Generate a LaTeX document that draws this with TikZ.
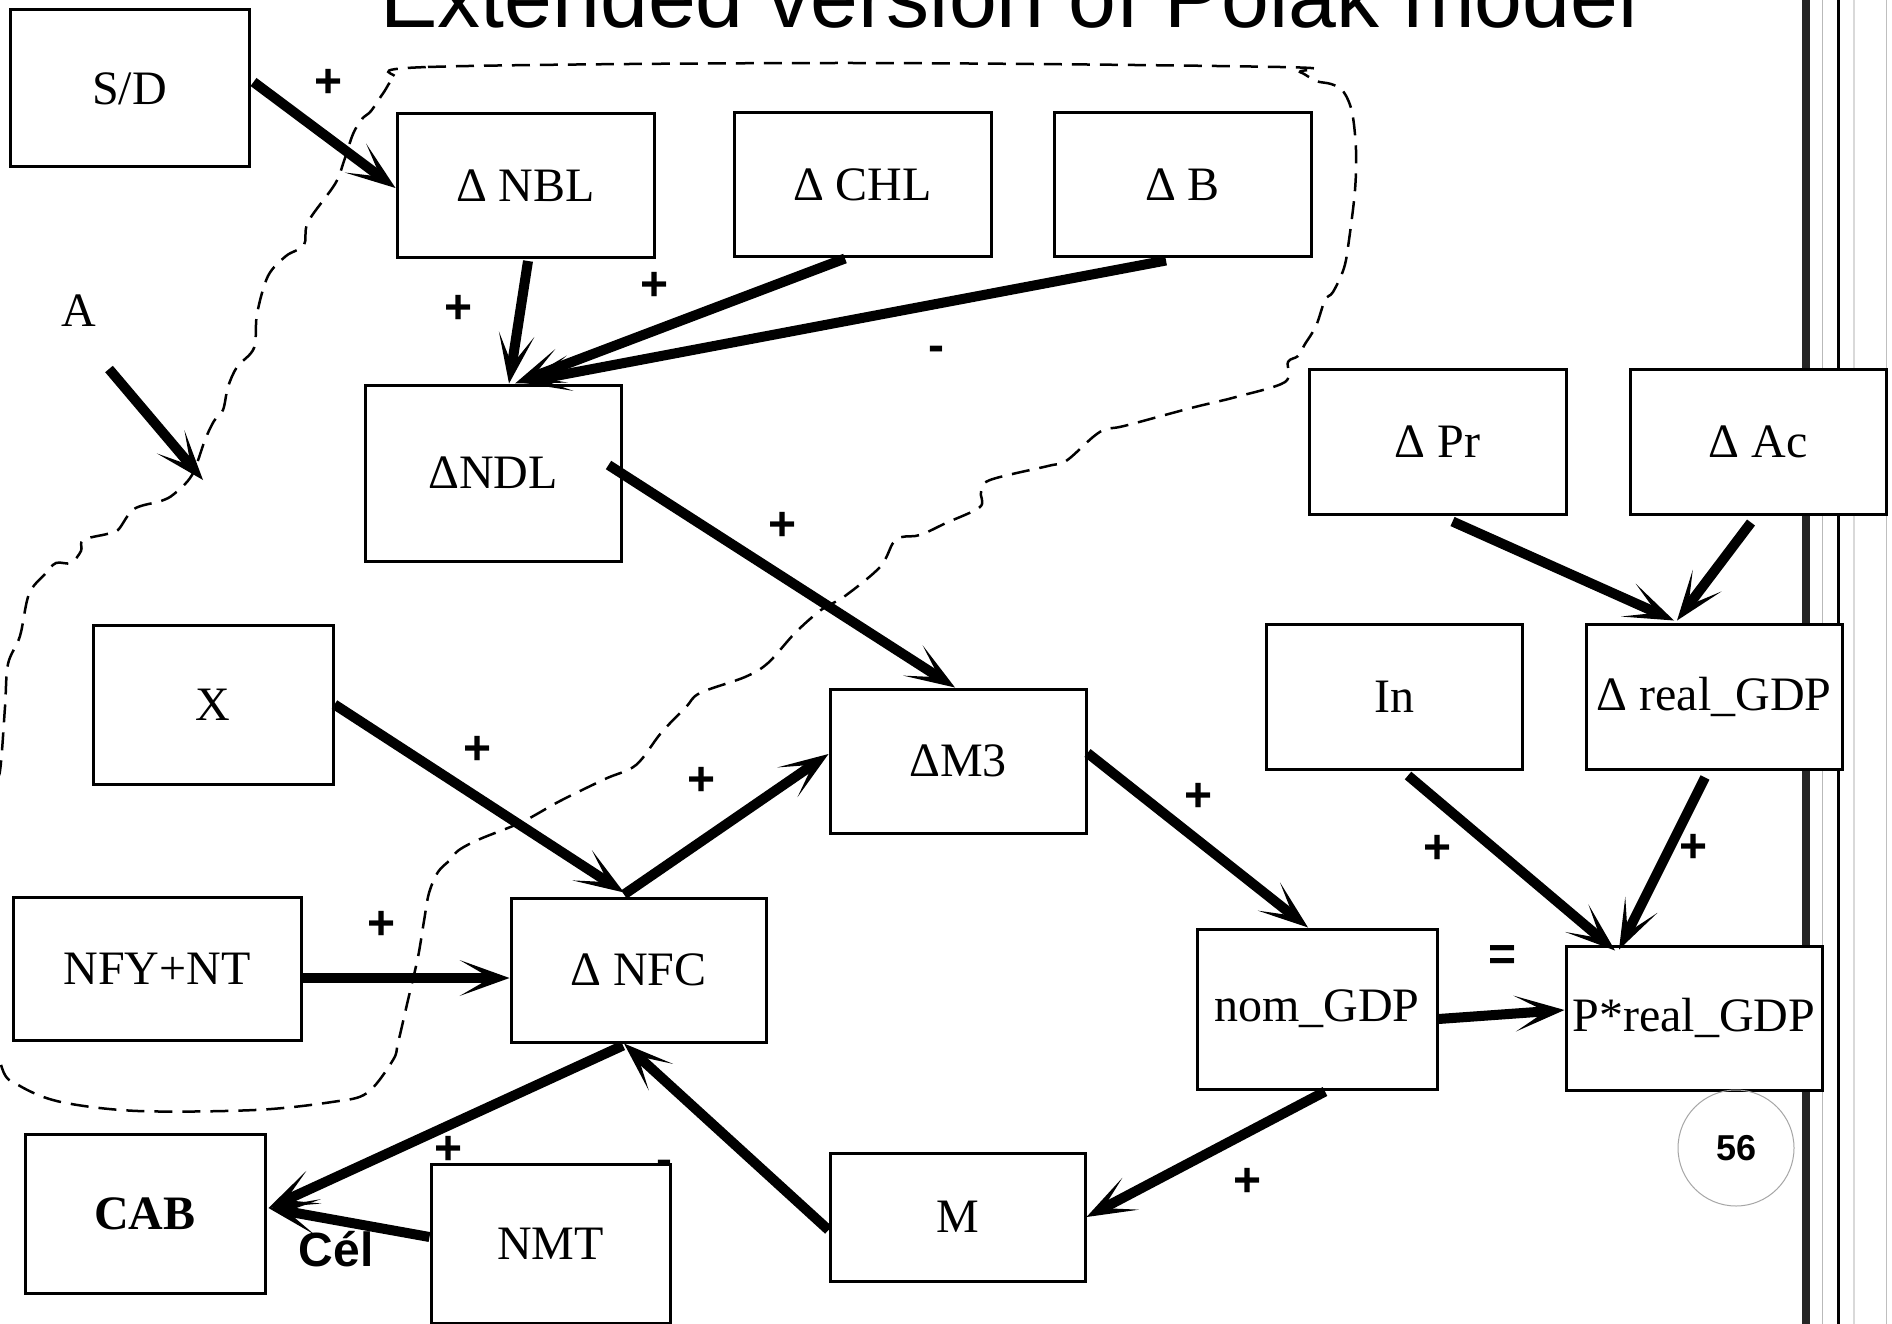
\documentclass[tikz,border=0pt]{standalone}
\usepackage{fontspec}
\setmainfont{Liberation Serif}
\newfontfamily\arialfont{Liberation Sans}
\usetikzlibrary{arrows.meta}

\newcommand\boxfont{\fontsize{48pt}{56pt}\selectfont}
\newcommand\signfont{\fontsize{48pt}{56pt}\arialfont\bfseries}
\newcommand\ttlfont{\fontsize{86pt}{100pt}\arialfont}
\newcommand\pgnumfont{\fontsize{36pt}{40pt}\arialfont\bfseries}

\begin{document}
\begin{tikzpicture}[x=1pt,y=-1pt,
  box/.style={draw, line width=3pt, fill=white, inner sep=0pt, font=\boxfont},
  conn/.style={line width=10pt, -{Stealth[length=50pt,width=36pt,inset=31pt,line width=0pt]}},
  sign/.style={inner sep=0pt, font=\signfont},
  boundary/.style={line width=2.5pt, dash pattern=on 18pt off 10pt}]

\clip (0,0) rectangle (1892,1324);
\fill[white] (0,0) rectangle (1892,1324);

% vertical rails along the right margin
\draw[line width=8pt, black!85] (1806,0) -- (1806,1324);
\draw[line width=1pt, gray!55] (1822,0) -- (1822,1324);
\draw[line width=3pt, black] (1838,0) -- (1838,1324);
\draw[line width=2pt, gray!30] (1854,0) -- (1854,1324);
\draw[line width=1pt, gray!50] (1886,0) -- (1886,1324);

% title (runs off the top edge)
\node[anchor=base, inner sep=0pt, font=\ttlfont] (title) at (1009,28) {Extended version of Polak model};

% dashed boundary around the banking sector
\draw[boundary] plot[smooth cycle, tension=0.55] coordinates {
  (395,78) (428,67) (845,63) (1280,67) (1300,72) (1316,81) (1331,84) (1343,91)
  (1352,112) (1356,150) (1355,190) (1349,240) (1344,268) (1333,292) (1325,300)
  (1316,326) (1305,344) (1298,356) (1288,362) (1285,382) (1236,397) (1191,408)
  (1124,426) (1106,429) (1093,437) (1066,461) (1048,466) (990,480) (981,492)
  (980,507) (946,523) (920,535) (902,537) (893,543) (880,567) (845,596)
  (821,610) (795,633) (768,663) (745,677) (700,693) (686,707) (661,733)
  (636,765) (605,779) (560,801) (522,822) (480,839) (459,850) (450,860)
  (438,872) (429,893) (424,921) (418,957) (408,1000) (398,1043) (393,1060)
  (367,1093) (332,1102) (255,1110) (138,1111) (61,1102) (20,1086) (2,1068)
  (-8,1000) (-8,800) (0,771) (5,707) (8,664) (20,636) (29,594) (45,574)
  (56,563) (71,563) (81,551) (83,540) (107,534) (118,530) (134,509) (161,501)
  (174,494) (192,475) (205,440) (214,421) (223,410) (228,387) (237,367)
  (254,348) (257,314) (268,276) (286,256) (304,245) (308,222) (335,184)
  (344,161) (353,134) (362,119) (371,111) (384,92)};

% variables
\node[box, minimum width=239pt, minimum height=157pt] (sd)   at (129.5,88.5) {S/D};
\node[box, minimum width=257pt, minimum height=144pt] (nbl)  at (525.5,186)  {Δ NBL};
\node[box, minimum width=257pt, minimum height=144pt] (chl)  at (862.5,185)  {Δ CHL};
\node[box, minimum width=257pt, minimum height=144pt] (b)    at (1182.5,185) {Δ B};
\node[box, minimum width=256pt, minimum height=176pt] (ndl)  at (493,473)    {ΔNDL};
\node[box, minimum width=257pt, minimum height=145pt] (pr)   at (1437.5,441.5) {Δ Pr};
\node[box, minimum width=256pt, minimum height=145pt] (ac)   at (1758,441.5) {Δ Ac};
\node[box, minimum width=256pt, minimum height=145pt] (in)   at (1394,696.5) {In};
\node[box, minimum width=256pt, minimum height=145pt] (real) at (1714,696.5) {Δ real\_GDP};
\node[box, minimum width=240pt, minimum height=159pt] (x)    at (213,704.5)  {X};
\node[box, minimum width=256pt, minimum height=144pt] (m3)   at (958,761)    {ΔM3};
\node[box, minimum width=288pt, minimum height=143pt] (nfy)  at (157,968.5)  {NFY+NT};
\node[box, minimum width=255pt, minimum height=144pt] (nfc)  at (638.5,970)  {Δ NFC};
\node[box, minimum width=240pt, minimum height=160pt] (nom)  at (1317,1009)  {nom\_GDP};
\node[box, minimum width=256pt, minimum height=144pt] (p)    at (1694,1018)  {P*real\_GDP};
\node[box, minimum width=240pt, minimum height=159pt] (cab)  at (145,1213.5) {\bfseries CAB};
\node[box, minimum width=239pt, minimum height=159pt] (nmt)  at (550.5,1243.5) {NMT};
\node[box, minimum width=255pt, minimum height=128pt] (m)    at (957.5,1217) {M};

\node[inner sep=0pt, font=\boxfont] (alab) at (79,311) {A};
\coordinate (atail) at (109,369);
\coordinate (ahead) at (203,480);

% causal links
\draw[conn] (atail) -- (ahead);
\draw[conn] ([xshift=3pt,yshift=6.5pt]sd.east) -- ([yshift=-2pt]nbl.west);
\draw[conn] ([xshift=2.5pt,yshift=-1.5pt]nbl.south) -- ([xshift=16pt]ndl.north);
\draw[conn] ([xshift=-17.5pt]chl.south) -- ([xshift=22pt]ndl.north);
\draw[conn] ([xshift=-16.5pt,yshift=-2pt]b.south) -- ([xshift=28pt,yshift=1pt]ndl.north);
\draw[conn] ([xshift=-14pt,yshift=8pt]ndl.east) -- ([xshift=-3pt]m3.north);
\draw[conn] (x.east) -- ([xshift=-14.5pt,yshift=4pt]nfc.north);
\draw[conn] ([xshift=-14.5pt,yshift=2pt]nfc.north) -- ([yshift=7pt]m3.west);
\draw[conn] ([yshift=-9.5pt]nfy.east) -- ([yshift=-8pt]nfc.west);
\draw[conn] ([xshift=-15.5pt,yshift=-2pt]nfc.south) -- ([xshift=2pt,yshift=5.5pt]cab.east);
\draw[conn] ([yshift=-13pt]m.west) -- ([xshift=-14.5pt]nfc.south);
\draw[conn] ([yshift=6.5pt]nmt.west) -- ([xshift=2pt,yshift=5.5pt]cab.east);
\draw[conn] ([yshift=8pt]m3.east) -- ([xshift=-9pt]nom.north);
\draw[conn] ([xshift=8pt,yshift=-1pt]nom.south) -- (m.east);
\draw[conn] ([yshift=-10pt]nom.east) -- ([yshift=8pt]p.west);
\draw[conn] ([xshift=15pt,yshift=-6pt]pr.south) -- ([xshift=-40pt,yshift=2pt]real.north);
\draw[conn] ([xshift=-7pt,yshift=-7pt]ac.south) -- ([xshift=-37pt,yshift=2pt]real.north);
\draw[conn] ([xshift=14pt,yshift=-5pt]in.south) -- ([xshift=-79pt,yshift=-6pt]p.north);
\draw[conn] ([xshift=-9pt,yshift=-7pt]real.south) -- ([xshift=-75pt,yshift=-5pt]p.north);

% signs of the links
\node[sign] (s1)  at (329,83)     {+};
\node[sign] (s2)  at (459,309)    {+};
\node[sign] (s3)  at (654.5,286)  {+};
\node[sign] (s4)  at (936.6,354)  {-};
\node[sign] (s5)  at (782.5,526)  {+};
\node[sign] (s6)  at (478,750)    {+};
\node[sign] (s7)  at (701.5,781.5){+};
\node[sign] (s8)  at (381.6,925)  {+};
\node[sign] (s9)  at (1198.5,797) {+};
\node[sign] (s10) at (1437.7,849) {+};
\node[sign] (s11) at (1693,848)   {+};
\node[sign] (s12) at (1502.5,958) {=};
\node[sign] (s13) at (1247,1182)  {+};
\node[sign] (s14) at (448.7,1150) {+};
\node[sign] (s15) at (664,1168)   {-};
\node[sign, anchor=base] (cel) at (336,1266) {Cél};

% slide number
\node[circle, draw=gray!70, line width=1pt, minimum size=116pt, inner sep=0pt, font=\pgnumfont] (page) at (1736,1148) {56};

\end{tikzpicture}
\end{document}
